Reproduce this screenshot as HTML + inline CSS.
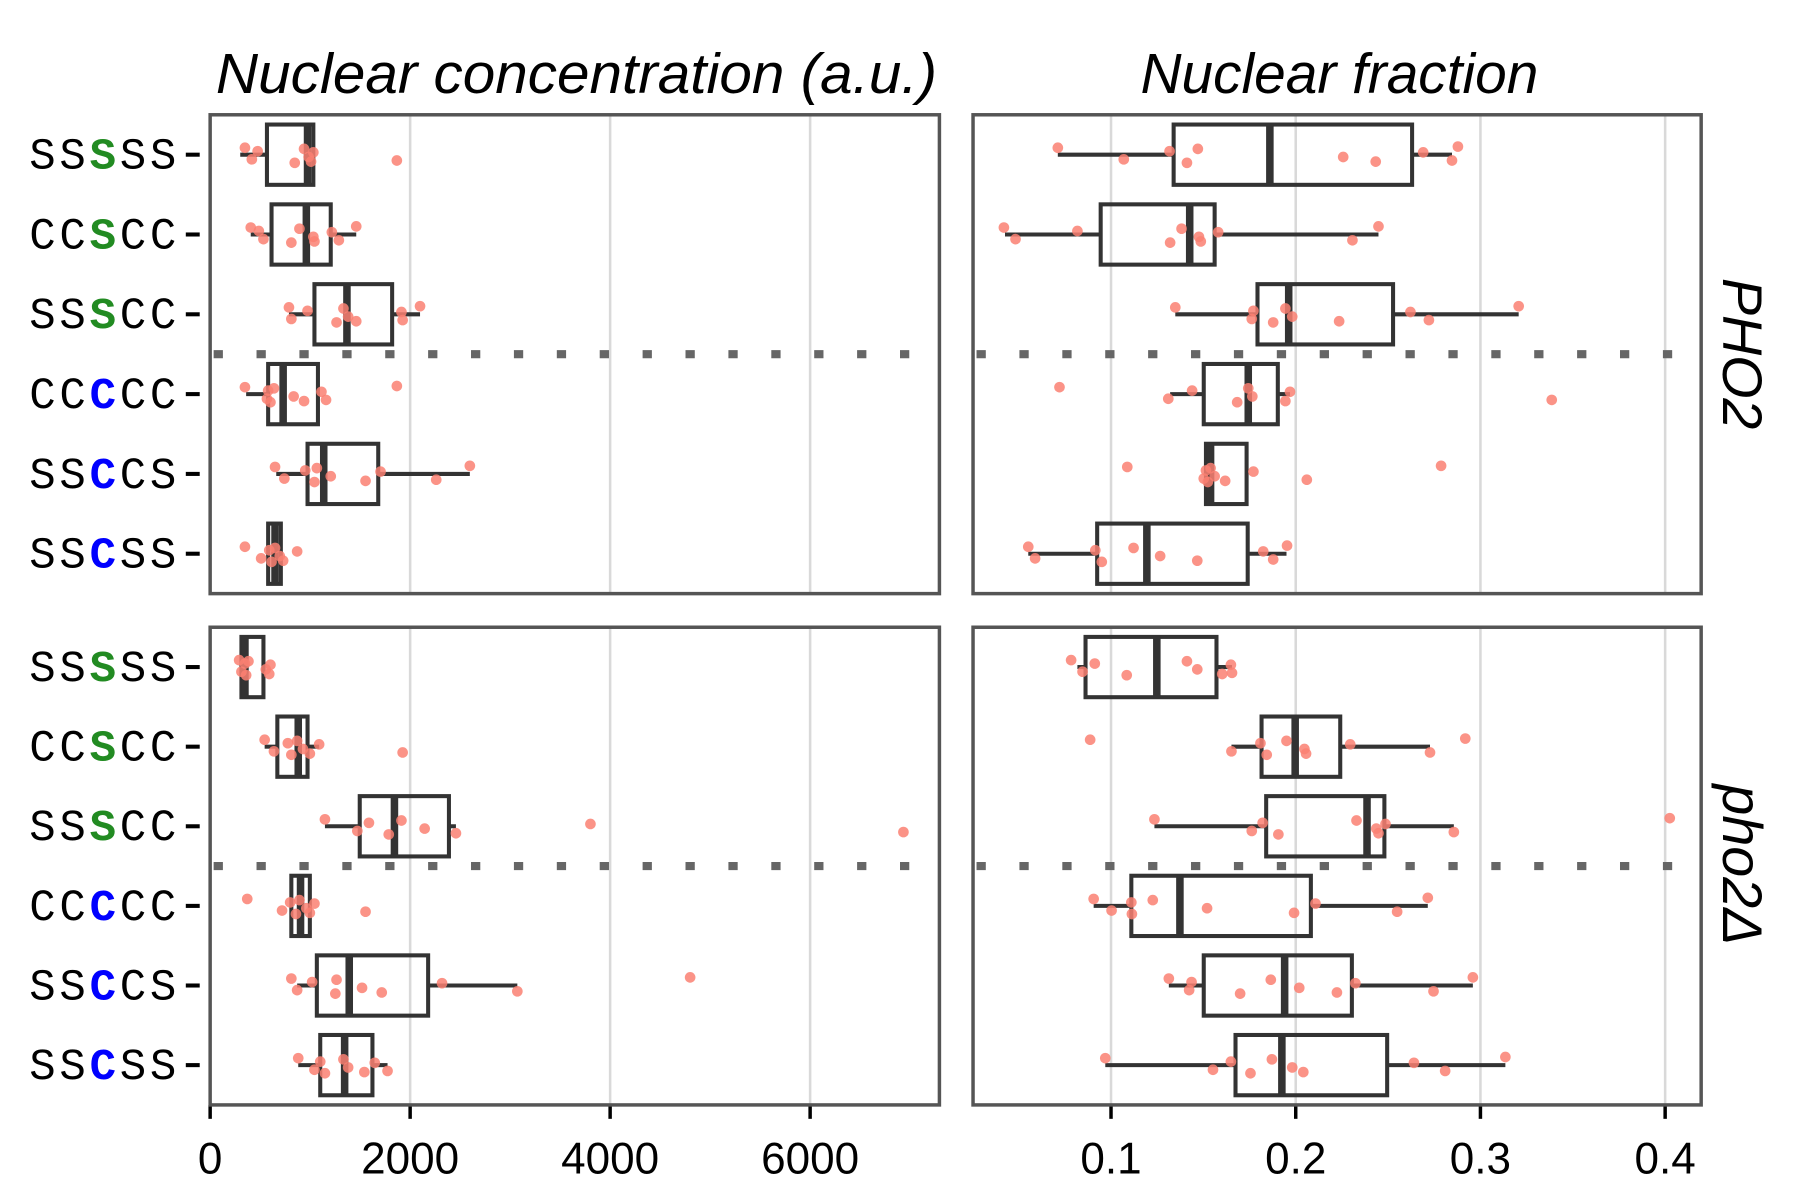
<!DOCTYPE html>
<html><head><meta charset="utf-8"><style>
html,body{margin:0;padding:0;background:#fff}
svg{display:block}
</style></head><body>
<svg id="chart" xmlns="http://www.w3.org/2000/svg" width="1800" height="1200" viewBox="0 0 1552 1035">
<rect x="0" y="0" width="1552" height="1035" fill="#fff"/>
<text x="497" y="80" text-anchor="middle" font-family="Liberation Sans, sans-serif" font-style="italic" font-size="49" textLength="622" lengthAdjust="spacingAndGlyphs">Nuclear concentration (a.u.)</text>
<text x="1155" y="80" text-anchor="middle" font-family="Liberation Sans, sans-serif" font-style="italic" font-size="49">Nuclear fraction</text>
<text transform="translate(1486,305) rotate(90)" text-anchor="middle" font-family="Liberation Sans, sans-serif" font-style="italic" font-size="48">PHO2</text>
<text transform="translate(1486,746) rotate(90)" text-anchor="middle" font-family="Liberation Sans, sans-serif" font-style="italic" font-size="48">pho2Δ</text>
<g id="plots"></g>
</svg>
<script>
const categories = ["SSSSS","CCSCC","SSSCC","CCCCC","SSCCS","SSCSS"];
const concTicks = [0,2000,4000,6000];
const fracTicks = [0.1,0.2,0.3,0.4];
// each row: [whiskerLo, q1, median, q3, whiskerHi]
const concPHO2Boxes = [
 [301,568,974,1032,1032],[406,614,962,1206,1461],[788,1043,1368,1820,2099],
 [360,580,730,1078,1078],[661,974,1136,1681,2597],[580,580,649,707,707]];
const concPHO2Points = [
 [348,417,475,846,939,985,1009,1032,1867],[406,533,487,812,893,1032,1043,1217,1287,1461],
 [788,812,974,1264,1333,1380,1461,1913,1925,2099],[348,568,580,603,638,835,939,1113,1159,1867],
 [649,742,951,1043,1067,1206,1554,1704,2261,2597],[348,510,591,614,649,696,730,870]];
const concDeltaBoxes = [
 [313,313,348,533,533],[545,672,881,974,1090],[1148,1496,1843,2388,2458],
 [812,812,904,997,997],[870,1067,1391,2180,3072],[881,1101,1345,1623,1774]];
const concDeltaPoints = [
 [290,313,348,360,383,557,591,603],[545,638,777,812,870,928,997,1090,1925],
 [1148,1472,1588,1786,1913,2145,2458,3803,6933],[371,719,800,858,893,962,997,1043,1554],
 [812,870,1020,1252,1264,1519,1716,2319,3072,4800],[881,1043,1101,1148,1333,1380,1542,1646,1774]];
const fracPHO2Boxes = [
 [0.0712,0.1339,0.186,0.263,0.2846],[0.0426,0.0944,0.1426,0.1561,0.2448],[0.1348,0.1793,0.1962,0.2527,0.3207],
 [0.132,0.1502,0.1743,0.1903,0.1969],[0.1514,0.1514,0.1539,0.1734,0.1734],[0.0552,0.0925,0.1194,0.174,0.195]];
const fracPHO2Points = [
 [0.0712,0.1069,0.1317,0.1411,0.147,0.2257,0.2433,0.269,0.2846,0.2878],
 [0.042,0.0483,0.0818,0.132,0.1382,0.1476,0.1486,0.158,0.2307,0.2448],
 [0.1348,0.1762,0.1771,0.1878,0.1944,0.1981,0.2235,0.2621,0.2721,0.3207],
 [0.0721,0.131,0.1439,0.1683,0.1743,0.1765,0.1944,0.1969,0.3386],
 [0.1088,0.1502,0.1514,0.1524,0.1539,0.1561,0.1618,0.1771,0.206,0.2787],
 [0.0552,0.0589,0.0915,0.095,0.1122,0.1266,0.1467,0.1824,0.1878,0.1953]];
const fracDeltaBoxes = [
 [0.0818,0.0862,0.1248,0.1571,0.1655],[0.1652,0.1815,0.1997,0.2241,0.2727],[0.1235,0.184,0.2386,0.248,0.2856],
 [0.0906,0.111,0.1373,0.2082,0.2715],[0.1313,0.1502,0.194,0.2304,0.2959],[0.0969,0.1674,0.1925,0.2495,0.3135]];
const fracDeltaPoints = [
 [0.0784,0.0846,0.0912,0.1085,0.1411,0.1467,0.1602,0.1649,0.1655],
 [0.0887,0.1652,0.1809,0.1843,0.195,0.2047,0.2056,0.2295,0.2727,0.2918],
 [0.1235,0.1762,0.1821,0.1906,0.2329,0.2436,0.2448,0.2486,0.2856,0.4025],
 [0.0906,0.1003,0.111,0.1113,0.1226,0.152,0.1991,0.2107,0.2549,0.2715],
 [0.1313,0.1423,0.1436,0.1699,0.1865,0.2019,0.2223,0.2323,0.2746,0.2959],
 [0.0969,0.1552,0.1649,0.1755,0.1871,0.1981,0.2041,0.264,0.2809,0.3135]];

const NS="http://www.w3.org/2000/svg";
const root=document.getElementById('plots');
const jit=[-6,4,-3,7,-5,2,6,-2,5,-7,1,-4];
function mk(tag,attrs,parent){const e=document.createElementNS(NS,tag);for(const k in attrs)e.setAttribute(k,attrs[k]);(parent||root).appendChild(e);return e;}
function colorize(t,label){
  for(let i=0;i<label.length;i++){
    const s=mk('tspan',{},t);s.textContent=label[i];
    if(i===2){s.setAttribute('fill',label[i]==='S'?'#228b22':'#0000ff');s.setAttribute('font-weight','bold');}
  }
}
function panel(name,x0,x1,y0,y1,dmin,dmax,boxes,points,ticks,showY,showX,tickFmt){
  const g=mk('g',{});
  
  
  const sx=v=>x0+(v-dmin)/(dmax-dmin)*(x1-x0);
  const rowH=(y1-y0)/6;
  const cy=i=>y0+rowH*(i+0.5);
  ticks.forEach(t=>{
    const l=mk('line',{x1:sx(t),x2:sx(t),y1:y0,y2:y1,stroke:'#d9d9d9','stroke-width':2.2},g);
    
    
    if(showX){
      const tk=mk('line',{x1:sx(t),x2:sx(t),y1:y1,y2:y1+12,stroke:'#000','stroke-width':3},g);
      
      
      const tx=mk('text',{x:sx(t),y:y1+59,'text-anchor':'middle','font-family':'Liberation Sans, sans-serif','font-size':38},g);
      
      
      tx.textContent=tickFmt(t);
    }
  });
  const dl=mk('line',{x1:x0+3,x2:x1,y1:(y0+y1)/2,y2:(y0+y1)/2,stroke:'#666','stroke-width':7,'stroke-dasharray':'8 29'},g);
  
  
  boxes.forEach((b,i)=>{
    const y=cy(i),h=26;
    const bg=mk('g',{},g);
    
    
    mk('line',{x1:sx(b[0]),x2:sx(b[1]),y1:y,y2:y,stroke:'#333','stroke-width':3.5},bg);
    mk('line',{x1:sx(b[3]),x2:sx(b[4]),y1:y,y2:y,stroke:'#333','stroke-width':3.5},bg);
    mk('rect',{x:sx(b[1]),y:y-h,width:Math.max(sx(b[3])-sx(b[1]),0.5),height:2*h,fill:'none',stroke:'#333','stroke-width':3.5},bg);
    mk('line',{x1:sx(b[2]),x2:sx(b[2]),y1:y-h,y2:y+h,stroke:'#333','stroke-width':6.5},bg);
    points[i].forEach((v,j)=>{
      const c=mk('circle',{cx:sx(v),cy:y+jit[j%jit.length],r:4.6,fill:'#fa8072','fill-opacity':0.85},bg);
      
      
    });
    if(showY){
      mk('line',{x1:160,x2:172,y1:y,y2:y,stroke:'#000','stroke-width':3.5},g);
      const t=mk('text',{x:25,y:y+12,'font-family':'Liberation Mono, monospace','font-size':38,'letter-spacing':3.2},g);
      
      
      colorize(t,categories[i]);
    }
  });
  const fr=mk('rect',{x:x0,y:y0,width:x1-x0,height:y1-y0,fill:'none',stroke:'#555','stroke-width':3},g);
  
  
}
const cF=t=>String(t), fF=t=>t.toFixed(1);
panel('panel-conc-pho2',181,810,99,512,0,7293,concPHO2Boxes,concPHO2Points,concTicks,true,false,cF);
panel('panel-frac-pho2',839,1467,99,512,0.0253,0.4195,fracPHO2Boxes,fracPHO2Points,fracTicks,false,false,fF);
panel('panel-conc-pho2delta',181,810,541,953,0,7293,concDeltaBoxes,concDeltaPoints,concTicks,true,true,cF);
panel('panel-frac-pho2delta',839,1467,541,953,0.0253,0.4195,fracDeltaBoxes,fracDeltaPoints,fracTicks,false,true,fF);
</script>
</body></html>
